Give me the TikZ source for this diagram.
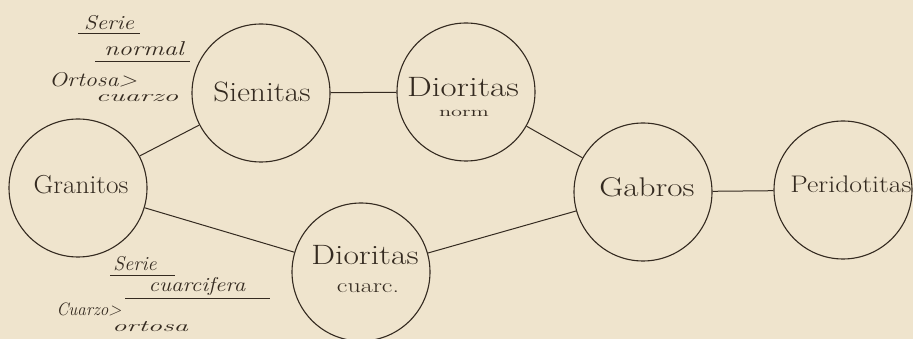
\documentclass[tikz,border=0pt]{standalone}
\usepackage{fontspec}
\usetikzlibrary{positioning}
\definecolor{paper}{RGB}{239,228,205}
\definecolor{ink}{RGB}{52,42,32}
\newcommand{\hwide}[2]{\scalebox{#1}[1]{#2}}
\begin{document}
\begin{tikzpicture}[x=1pt,y=-1pt,
  rock/.style={draw=ink, line width=1.1pt, circle, inner sep=0pt, minimum size=138pt},
  word/.style={text=ink, inner sep=0pt},
  note/.style={text=ink, inner sep=0pt, font=\itshape\fontsize{20}{20}\selectfont},
  smallnote/.style={text=ink, inner sep=0pt, font=\itshape\fontsize{16}{16}\selectfont},
  midnote/.style={text=ink, inner sep=0pt, font=\itshape\fontsize{18}{18}\selectfont},
  link/.style={draw=ink, line width=1pt},
  uline/.style={draw=ink, line width=0.9pt}]
\fill[paper] (0,0) rectangle (913,339);
\useasboundingbox (0,0) rectangle (913,339);

\node[rock] (gra) at (78,188) {};
\node[rock] (sie) at (261,93) {};
\node[rock] (dno) at (466,92) {};
\node[rock] (dcu) at (361,272) {};
\node[rock] (gab) at (643,192) {};
\node[rock] (per) at (843,190) {};

\node[word, font=\fontsize{26}{26}\selectfont] (tgra) at (81,185) {\hwide{1.05}{Granitos}};
\node[word, font=\fontsize{28}{28}\selectfont] (tsie) at (262,92) {\hwide{1.12}{Sienitas}};
\node[word, font=\fontsize{28}{28}\selectfont] (tdno) at (463,87) {\hwide{1.25}{Dioritas}};
\node[word, font=\fontsize{14}{14}\selectfont] (tdno2) at (464,113) {\hwide{1.6}{norm}};
\node[word, font=\fontsize{28}{28}\selectfont] (tdcu) at (365,255) {\hwide{1.2}{Dioritas}};
\node[word, font=\fontsize{20}{20}\selectfont] (tdcu2) at (368,288) {\hwide{1.3}{cuarc.}};
\node[word, font=\fontsize{27}{27}\selectfont] (tgab) at (647,187) {\hwide{1.23}{Gabros}};
\node[word, font=\fontsize{24}{24}\selectfont] (tper) at (851,184) {\hwide{1.16}{Peridotitas}};

\draw[link] (gra) -- (sie);
\draw[link] (sie) -- (dno);
\draw[link] (gra) -- (dcu);
\draw[link] (dno) -- (gab);
\draw[link] (dcu) -- (gab);
\draw[link] (gab) -- (per);

% upper annotation
\node[note] (s1) at (109,23) {\hwide{1.15}{Serie}};
\node[note] (n1) at (144,49) {\hwide{1.32}{normal}};
\node[note] (o1) at (93,80) {\hwide{1.2}{Ortosa>}};
\node[smallnote] (c1) at (137,98) {\hwide{1.85}{cuarzo}};
\draw[uline] (78,33) -- (140,33);
\draw[uline] (95,61) -- (190,61);

% lower annotation
\node[note] (s2) at (135,264) {Serie};
\node[note] (n2) at (197,286) {\hwide{1.15}{cuarcifera}};
\node[midnote] (c2) at (89,309) {\hwide{0.95}{Cuarzo>}};
\node[smallnote] (o2) at (150,327) {\hwide{1.8}{ortosa}};
\draw[uline] (110,275) -- (175,275);
\draw[uline] (125,298) -- (270,298);
\end{tikzpicture}
\end{document}
